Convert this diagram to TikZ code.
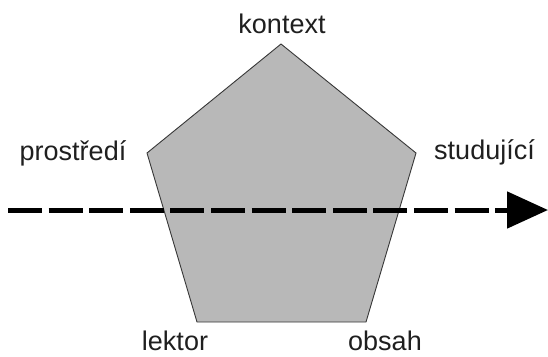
\documentclass[tikz,border=0pt]{standalone}
\usepackage{fontspec}
\setmainfont{Liberation Sans}
\usetikzlibrary{arrows.meta}
\definecolor{pentfill}{RGB}{184,184,184}
\definecolor{pentline}{RGB}{55,55,55}
\begin{document}
\begin{tikzpicture}[x=1pt,y=-1pt,
  lbl/.style={font=\fontsize{27}{30}\selectfont, text=black!88, inner sep=0pt, anchor=base},
  flow/.style={line width=5pt, dash pattern=on 34pt off 6.6pt, -{Triangle[length=41pt,width=36pt]}},
  pent/.style={fill=pentfill, draw=pentline, line width=0.9pt, line join=miter}]
\useasboundingbox (0,0) rectangle (548,356);
\coordinate (top) at (281,44);
\coordinate (right) at (416,153);
\coordinate (br) at (366,322);
\coordinate (bl) at (197,322);
\coordinate (left) at (147,153);
\filldraw[pent] (top) -- (right) -- (br) -- (bl) -- (left) -- cycle;
\coordinate (start) at (8,210);
\coordinate (end) at (548,210);
\draw[flow] (start) -- (end);
\node[lbl] (kontext) at (282,33) {kontext};
\node[lbl] (prostredi) at (73,160) {prostředí};
\node[lbl] (studujici) at (484.5,159) {studující};
\node[lbl] (lektor) at (175,350) {lektor};
\node[lbl] (obsah) at (385,350) {obsah};
\end{tikzpicture}
\end{document}
